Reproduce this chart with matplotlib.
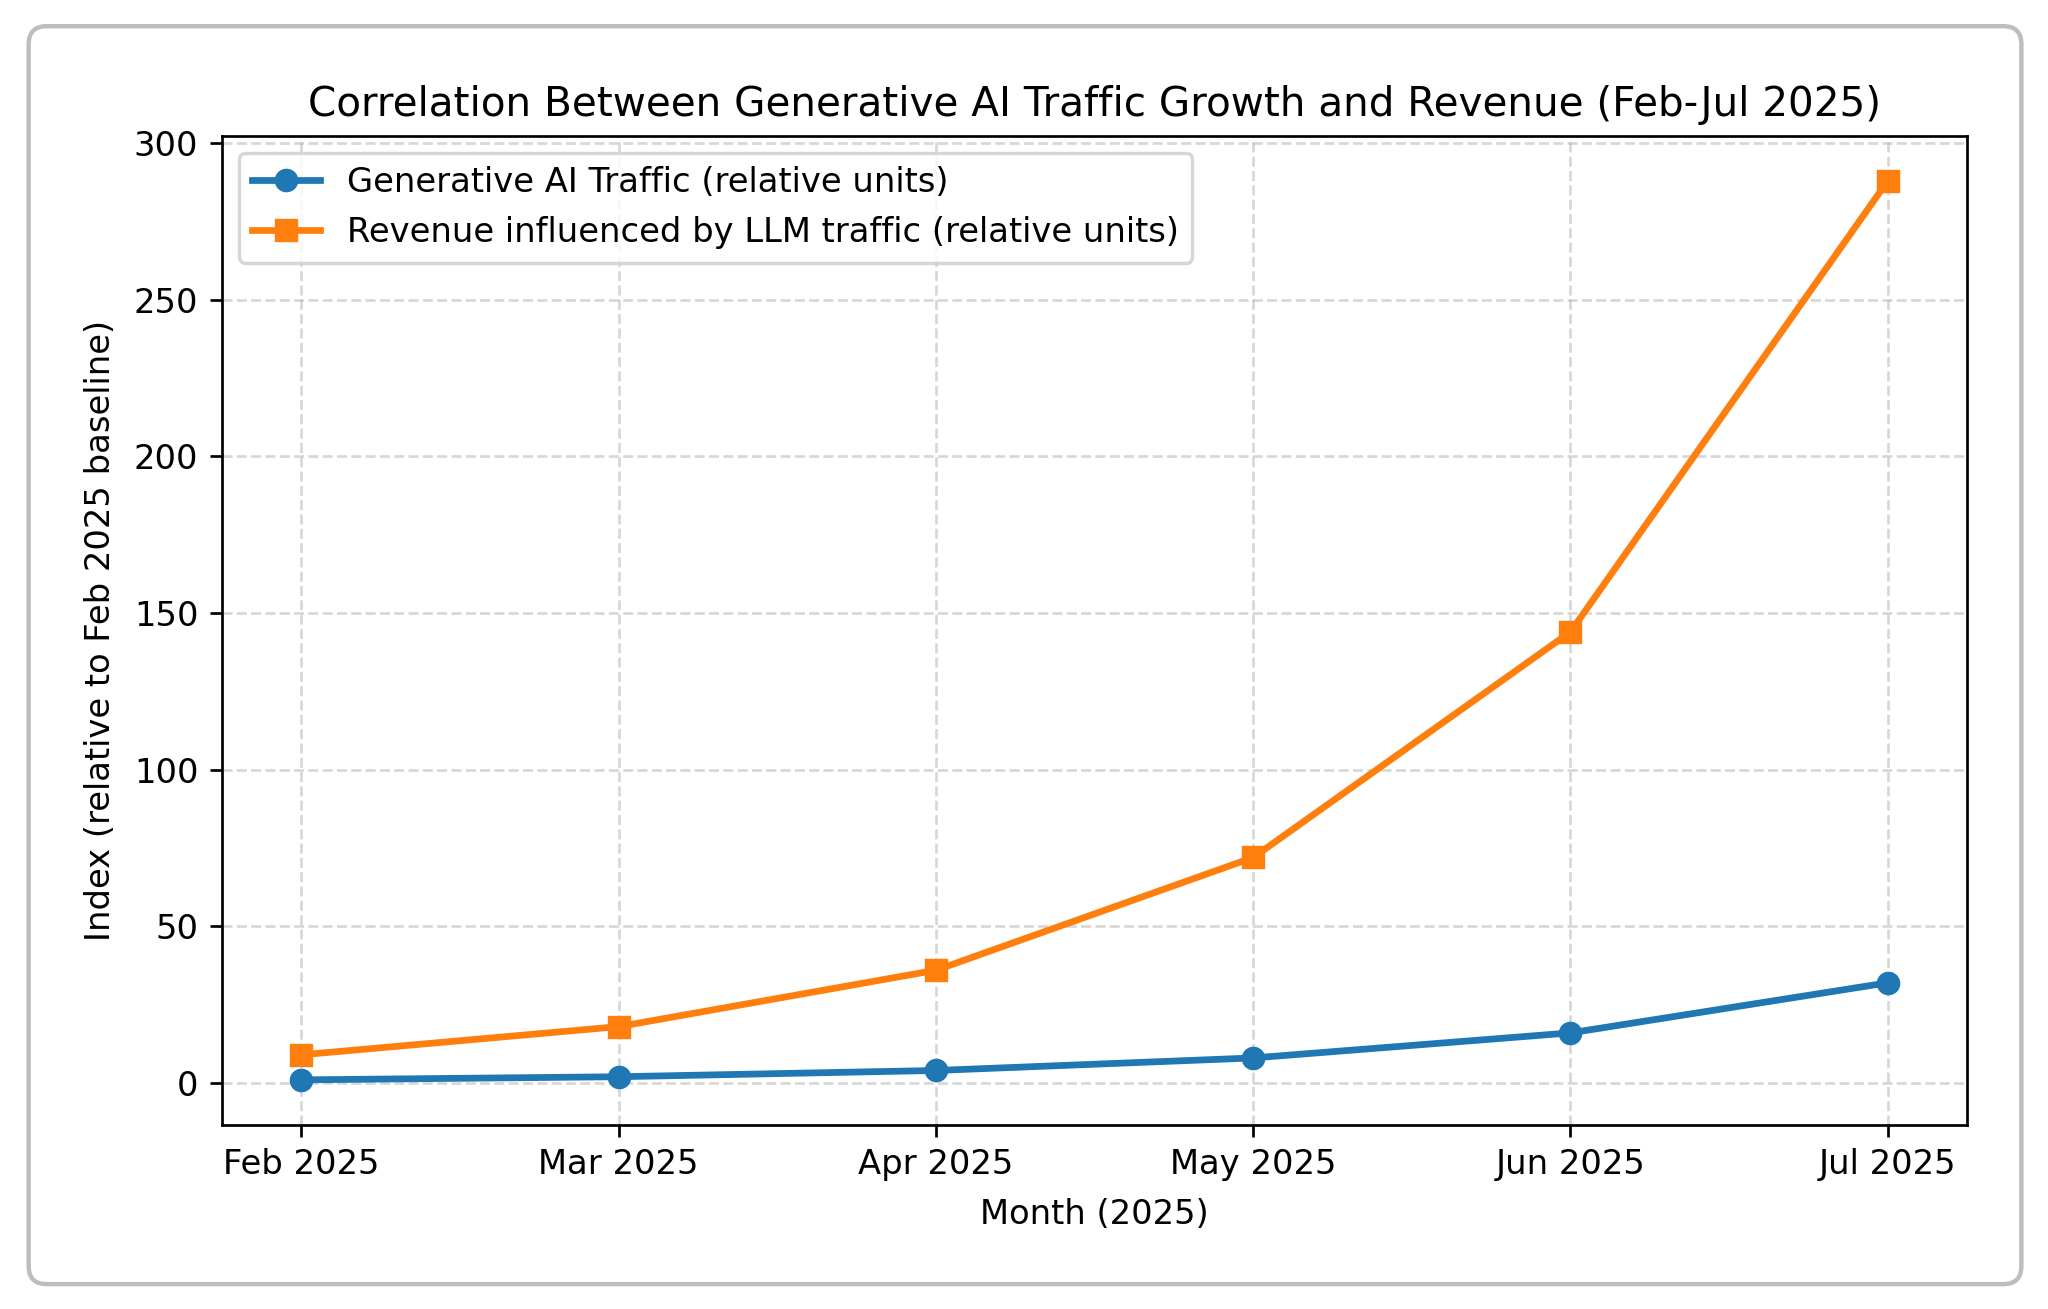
import matplotlib
matplotlib.use("Agg")
import matplotlib.pyplot as plt
from matplotlib.patches import FancyBboxPatch

months = ["Feb 2025", "Mar 2025", "Apr 2025", "May 2025", "Jun 2025", "Jul 2025"]
traffic = [1, 2, 4, 8, 16, 32]
revenue = [9, 18, 36, 72, 144, 288]

W, H = 2048, 1309
DPI = 243
fig = plt.figure(figsize=(W / DPI, H / DPI), dpi=DPI)
fig.patch.set_facecolor("white")

# rounded card border (in inches so corners stay circular)
fw, fh = W / DPI, H / DPI
bx0, by0 = 0.014 * fw, 0.019 * fh
bw, bh = 0.973 * fw, 0.961 * fh
border = FancyBboxPatch((bx0, by0), bw, bh,
                        boxstyle="round,pad=0,rounding_size=%f" % (18 / DPI),
                        transform=fig.dpi_scale_trans, facecolor="none",
                        edgecolor="#bdbdbd", linewidth=1.3, zorder=5)
fig.patches.append(border)

ax = fig.add_axes([0.1084, 0.1407, 0.9605 - 0.1084, 0.8962 - 0.1407])
x = list(range(len(months)))
ax.plot(x, traffic, marker="o", linewidth=2, color="#1f77b4",
        label="Generative AI Traffic (relative units)")
ax.plot(x, revenue, marker="s", linewidth=2, color="#ff7f0e",
        label="Revenue influenced by LLM traffic (relative units)")
ax.set_xticks(x)
ax.set_xticklabels(months, fontsize=10)
ax.tick_params(axis="y", labelsize=10)
ax.set_title("Correlation Between Generative AI Traffic Growth and Revenue (Feb-Jul 2025)", fontsize=12)
ax.set_xlabel("Month (2025)", fontsize=10, labelpad=5)
ax.set_ylabel("Index (relative to Feb 2025 baseline)", fontsize=10, labelpad=5)
ax.grid(True, linestyle="--", alpha=0.5)
ax.legend(loc="upper left", fontsize=10)

fig.savefig("out.png", dpi=DPI)
